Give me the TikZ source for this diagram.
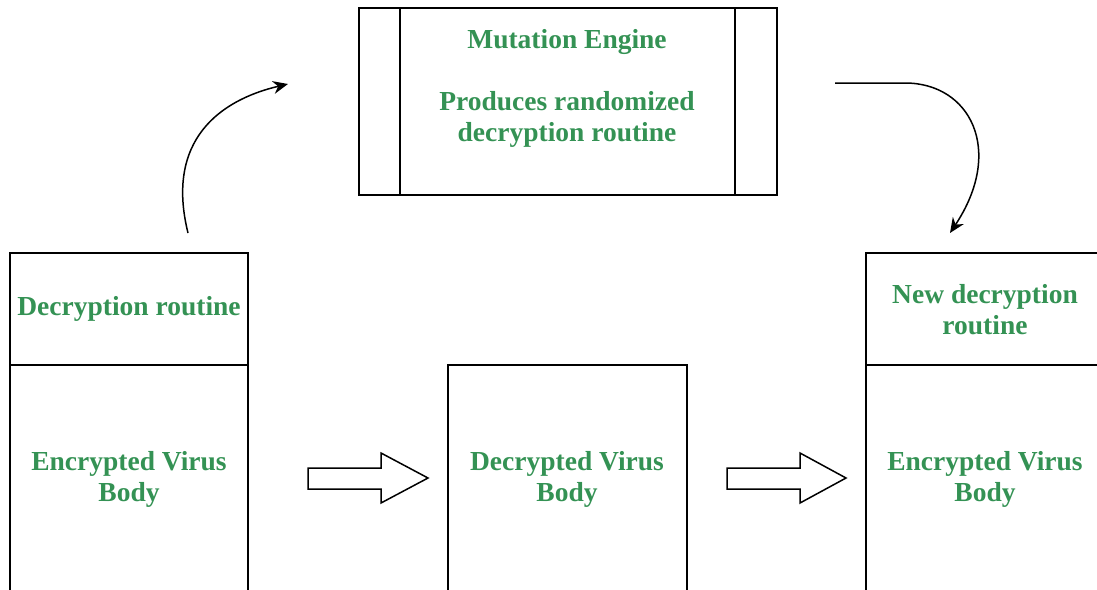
\documentclass[tikz,border=0pt]{standalone}
\usepackage{fontspec}
\setmainfont{Liberation Serif}
\usetikzlibrary{arrows.meta}
\definecolor{txtgreen}{RGB}{52,146,84}
\tikzset{
  box/.style={draw=black, line width=1.6pt, rectangle, inner sep=0pt},
  lbl/.style={text=txtgreen, font=\fontsize{27.5}{31}\selectfont\bfseries, align=center, inner sep=0pt},
  curvearrow/.style={line width=1.5pt, -{Stealth[length=15pt,width=13pt]}},
  blockarrow/.style={draw=black, line width=1.5pt, fill=white, line join=miter}
}
\begin{document}
\begin{tikzpicture}[x=1pt,y=-1pt]
\useasboundingbox (0,0) rectangle (1097,589);
\clip (0,0) rectangle (1097,589);
% top mutation engine box
\node[box, minimum width=418pt, minimum height=187pt] (me) at (568,101.5) {};
\draw[line width=1.6pt] (400,8) -- (400,195);
\draw[line width=1.6pt] (735,8) -- (735,195);
\node[lbl] (met) at (567,42) {Mutation Engine};
\node[lbl] (med) at (567,119) {Produces randomized\\decryption routine};
% left column
\node[box, minimum width=238pt, minimum height=112pt] (dl) at (129,309) {};
\node[box, minimum width=238pt, minimum height=250pt] (el) at (129,490) {};
\node[lbl] (dlt) at (129,309) {Decryption routine};
\node[lbl] (elt) at (129,479) {Encrypted Virus\\Body};
% middle column
\node[box, minimum width=239pt, minimum height=250pt] (dm) at (567.5,490) {};
\node[lbl] (dmt) at (567,479) {Decrypted Virus\\Body};
% right column
\node[box, minimum width=250pt, minimum height=112pt] (dr) at (991,309) {};
\node[box, minimum width=250pt, minimum height=250pt] (er) at (991,490) {};
\node[lbl] (drt) at (985,310) {New decryption\\routine};
\node[lbl] (ert) at (985,479) {Encrypted Virus\\Body};
% curved arrows
\coordinate (c1s) at (188,233);
\coordinate (c1e) at (288,84);
\draw[curvearrow] (c1s) .. controls (165,140) and (220,100) .. (c1e);
\coordinate (c2s) at (835,83);
\coordinate (c2m) at (905,83);
\coordinate (c2e) at (950,233);
\draw[curvearrow] (c2s) -- (c2m) .. controls (970,83) and (1005,150) .. (c2e);
% block arrows
\draw[blockarrow] (308,468) -- (381,468) -- (381,453) -- (428,478) -- (381,503) -- (381,489) -- (308,489) -- cycle;
\draw[blockarrow] (727,468) -- (800,468) -- (800,453) -- (846,478) -- (800,503) -- (800,489) -- (727,489) -- cycle;
\end{tikzpicture}
\end{document}
